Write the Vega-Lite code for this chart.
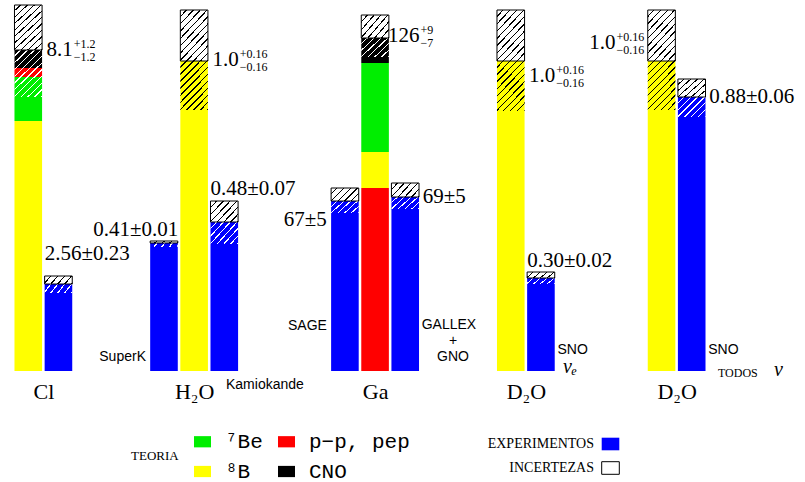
{
 "$schema": "https://vega.github.io/schema/vega-lite/v6.json",
 "width": 805, "height": 371, "padding": 0, "autosize": {"type": "pad"},
 "background": "white",
 "config": {"view": {"stroke": null}},
 "datasets": {
  "barras": [
   {"barra":"Cl-teoria","clase":"teoria","comp":"⁸B","lo":0,"hi":250},
   {"barra":"Cl-teoria","clase":"teoria","comp":"⁷Be","lo":250,"hi":294},
   {"barra":"Cl-teoria","clase":"teoria","comp":"p−p, pep","lo":294,"hi":303},
   {"barra":"Cl-teoria","clase":"teoria","comp":"CNO","lo":303,"hi":321},
   {"barra":"Cl-teoria","clase":"inc_sup","lo":321,"hi":366},
   {"barra":"Cl-teoria","clase":"inc_inf","comp":"⁷Be","lo":274,"hi":321},
   {"barra":"Homestake","clase":"experimento","comp":"EXPERIMENTOS","lo":0,"hi":87},
   {"barra":"Homestake","clase":"inc_sup","lo":87,"hi":95},
   {"barra":"Homestake","clase":"inc_inf","lo":78,"hi":87},
   {"barra":"SuperK","clase":"experimento","comp":"EXPERIMENTOS","lo":0,"hi":128},
   {"barra":"SuperK","clase":"inc_sup","lo":128,"hi":130},
   {"barra":"SuperK","clase":"inc_inf","lo":124,"hi":128},
   {"barra":"H2O-teoria","clase":"teoria","comp":"⁸B","lo":0,"hi":310},
   {"barra":"H2O-teoria","clase":"inc_sup","lo":310,"hi":361},
   {"barra":"H2O-teoria","clase":"inc_inf","comp":"⁸B","lo":261,"hi":310},
   {"barra":"Kamiokande","clase":"experimento","comp":"EXPERIMENTOS","lo":0,"hi":149},
   {"barra":"Kamiokande","clase":"inc_sup","lo":149,"hi":170},
   {"barra":"Kamiokande","clase":"inc_inf","lo":127,"hi":149},
   {"barra":"SAGE","clase":"experimento","comp":"EXPERIMENTOS","lo":0,"hi":170},
   {"barra":"SAGE","clase":"inc_sup","lo":170,"hi":183},
   {"barra":"SAGE","clase":"inc_inf","lo":158,"hi":170},
   {"barra":"Ga-teoria","clase":"teoria","comp":"p−p, pep","lo":0,"hi":183},
   {"barra":"Ga-teoria","clase":"teoria","comp":"⁸B","lo":183,"hi":219},
   {"barra":"Ga-teoria","clase":"teoria","comp":"⁷Be","lo":219,"hi":308},
   {"barra":"Ga-teoria","clase":"teoria","comp":"CNO","lo":308,"hi":333},
   {"barra":"Ga-teoria","clase":"inc_sup","lo":333,"hi":356},
   {"barra":"Ga-teoria","clase":"inc_inf","comp":"CNO","lo":314,"hi":333},
   {"barra":"GALLEX+GNO","clase":"experimento","comp":"EXPERIMENTOS","lo":0,"hi":174},
   {"barra":"GALLEX+GNO","clase":"inc_sup","lo":174,"hi":188},
   {"barra":"GALLEX+GNO","clase":"inc_inf","lo":162,"hi":174},
   {"barra":"D2O-teoria-e","clase":"teoria","comp":"⁸B","lo":0,"hi":310},
   {"barra":"D2O-teoria-e","clase":"inc_sup","lo":310,"hi":361},
   {"barra":"D2O-teoria-e","clase":"inc_inf","comp":"⁸B","lo":260,"hi":310},
   {"barra":"SNO-CC","clase":"experimento","comp":"EXPERIMENTOS","lo":0,"hi":93},
   {"barra":"SNO-CC","clase":"inc_sup","lo":93,"hi":99},
   {"barra":"SNO-CC","clase":"inc_inf","lo":87,"hi":93},
   {"barra":"D2O-teoria","clase":"teoria","comp":"⁸B","lo":0,"hi":310},
   {"barra":"D2O-teoria","clase":"inc_sup","lo":310,"hi":361},
   {"barra":"D2O-teoria","clase":"inc_inf","comp":"⁸B","lo":261,"hi":310},
   {"barra":"SNO-NC","clase":"experimento","comp":"EXPERIMENTOS","lo":0,"hi":274},
   {"barra":"SNO-NC","clase":"inc_sup","lo":274,"hi":292},
   {"barra":"SNO-NC","clase":"inc_inf","lo":254,"hi":274}
  ],
  "textos": [
   {"grupo":"teo","barra":"Cl-teoria","y":321,"texto":"8.1","sup":"+1.2","sub":"−1.2"},
   {"grupo":"teo","barra":"H2O-teoria","y":311,"texto":"1.0","sup":"+0.16","sub":"−0.16"},
   {"grupo":"teo","barra":"Ga-teoria","y":335,"texto":"126","sup":"+9","sub":"−7"},
   {"grupo":"teo","barra":"D2O-teoria-e","y":295,"texto":"1.0","sup":"+0.16","sub":"−0.16"},
   {"grupo":"teo","barra":"s36","y":328,"texto":"1.0","sup":"+0.16","sub":"−0.16"},
   {"grupo":"exp_arriba","barra":"Homestake","y":117,"texto":"2.56±0.23"},
   {"grupo":"exp_arriba","barra":"Kamiokande","y":181.7,"texto":"0.48±0.07"},
   {"grupo":"exp_arriba","barra":"SNO-CC","y":110,"texto":"0.30±0.02"},
   {"grupo":"exp_dcha","barra":"GALLEX+GNO","y":173.7,"texto":"69±5"},
   {"grupo":"exp_dcha","barra":"SNO-NC","y":273.7,"texto":"0.88±0.06"},
   {"grupo":"exp_sk","barra":"SuperK","y":141,"texto":"0.41±0.01"},
   {"grupo":"exp_sage","barra":"SAGE","y":151,"texto":"67±5"},
   {"grupo":"nom_izq","barra":"SuperK","y":14,"texto":"SuperK"},
   {"grupo":"nom_izq","barra":"SAGE","y":45,"texto":"SAGE"},
   {"grupo":"nom_dcha","barra":"GALLEX+GNO","y":46,"texto":"GALLEX"},
   {"grupo":"nom_dcha","barra":"SNO-CC","y":21,"texto":"SNO"},
   {"grupo":"nom_dcha","barra":"SNO-NC","y":21,"texto":"SNO"},
   {"grupo":"nom_centro","barra":"GALLEX+GNO","y":30,"texto":"+"},
   {"grupo":"nom_centro","barra":"GALLEX+GNO","y":14,"texto":"GNO"},
   {"grupo":"nom_kam","barra":"Kamiokande","y":-13.7,"texto":"Kamiokande"},
   {"grupo":"nu","barra":"SNO-CC","y":4,"texto":"νₑ"},
   {"grupo":"nu","barra":"s48","y":1,"texto":"ν"},
   {"grupo":"todos","barra":"SNO-NC","y":-2,"texto":"TODOS"}
  ]
 },
 "encoding": {
  "x": {"field": "barra", "type": "nominal",
   "scale": {"type": "point", "padding": 0, "range": [28.28, 752.02],
    "domain": ["Cl-teoria","s01","Homestake","s03","s04","s05","s06","s07","s08","SuperK","s10","H2O-teoria","s12","Kamiokande","s14","s15","s16","s17","s18","s19","s20","SAGE","s22","Ga-teoria","s24","GALLEX+GNO","s26","s27","s28","s29","s30","s31","D2O-teoria-e","s33","SNO-CC","s35","s36","s37","s38","s39","s40","s41","D2O-teoria","s43","SNO-NC","s45","s46","s47","s48"]},
   "axis": {"values": ["s01","H2O-teoria","Ga-teoria","s33","s43"],
    "labelExpr": "datum.value == 's01' ? 'Cl' : datum.value == 'H2O-teoria' ? 'H₂O' : datum.value == 'Ga-teoria' ? 'Ga' : 'D₂O'",
    "title": null, "domain": false, "ticks": false, "tickSize": 0, "grid": false,
    "labelPadding": 10, "labelFont": "Liberation Serif", "labelFontSize": 22, "labelColor": "#000000",
    "labelAngle": 0, "labelBaseline": "top", "labelOverlap": false}
  }
 },
 "layer": [
  {"data": {"name": "barras"}, "transform": [{"filter": "datum.clase == 'teoria'"}],
   "mark": {"type": "bar", "width": 27.6},
   "encoding": {
    "y": {"field": "lo", "type": "quantitative", "scale": {"domain": [0, 371]}, "axis": null},
    "y2": {"field": "hi"},
    "fill": {"field": "comp", "type": "nominal",
     "scale": {"domain": ["⁷Be","p−p, pep","⁸B","CNO"], "range": ["#00ee00","#ff0000","#ffff00","#000000"]},
     "legend": {"title": "TEORIA", "orient": "none", "legendX": 131, "legendY": 431, "columns": 2, "direction": "horizontal",
      "titleOrient": "left", "titleAnchor": "middle", "titleBaseline": "middle", "titleFont": "Liberation Serif",
      "titleFontSize": 13, "titleFontWeight": "normal", "titleColor": "#000000", "titlePadding": 13,
      "labelFont": "Liberation Mono", "labelFontSize": 21, "labelColor": "#000000", "labelOffset": 12, "labelLimit": 300,
      "symbolType": "M-1,-0.66H1V0.66H-1Z", "symbolSize": 289, "symbolStrokeWidth": 0,
      "rowPadding": 8, "columnPadding": 13, "padding": 0}}
   }},
  {"data": {"name": "barras"}, "transform": [{"filter": "datum.clase == 'experimento'"}],
   "mark": {"type": "bar", "width": 27.6},
   "encoding": {
    "y": {"field": "lo", "type": "quantitative", "scale": {"domain": [0, 371]}, "axis": null},
    "y2": {"field": "hi"},
    "fill": {"field": "comp", "type": "nominal",
     "scale": {"domain": ["EXPERIMENTOS","INCERTEZAS"], "range": ["#0000ff", "#ffffff"]},
     "legend": {"title": null, "orient": "none", "legendX": 601, "legendY": 434.5, "direction": "vertical",
      "labelFont": "Liberation Serif", "labelFontSize": 14, "labelColor": "#000000", "labelLimit": 300,
      "symbolType": "M-1,-0.716H1V0.716H-1Z", "symbolSize": 310, "rowPadding": 6, "padding": 0,
      "encode": {
       "labels": {"update": {"align": {"value": "right"}, "x": {"value": -7}}},
       "symbols": {"update": {
        "stroke": [{"test": "datum.value === 'INCERTEZAS'", "value": "#000000"}, {"value": "transparent"}],
        "strokeWidth": {"value": 1}}}
      }}}
   }},
  {"data": {"name": "barras"}, "transform": [{"filter": "datum.clase == 'inc_inf' && datum.hi - datum.lo >= 35 && datum.comp == '⁸B'"}],
   "mark": {"type": "bar", "width": 27.6, "fill": {"gradient": "linear", "x1": 0, "y1": 0, "x2": 0.6806, "y2": 1.1836, "stops": [
    {"offset":0,"color":"rgba(0,0,0,0)"},{"offset":0.0727,"color":"rgba(0,0,0,0)"},{"offset":0.0727,"color":"#000000"},{"offset":0.0909,"color":"#000000"},
    {"offset":0.0909,"color":"rgba(0,0,0,0)"},{"offset":0.1636,"color":"rgba(0,0,0,0)"},{"offset":0.1636,"color":"#000000"},{"offset":0.1818,"color":"#000000"},
    {"offset":0.1818,"color":"rgba(0,0,0,0)"},{"offset":0.2545,"color":"rgba(0,0,0,0)"},{"offset":0.2545,"color":"#000000"},{"offset":0.2727,"color":"#000000"},
    {"offset":0.2727,"color":"rgba(0,0,0,0)"},{"offset":0.3455,"color":"rgba(0,0,0,0)"},{"offset":0.3455,"color":"#000000"},{"offset":0.3636,"color":"#000000"},
    {"offset":0.3636,"color":"rgba(0,0,0,0)"},{"offset":0.4364,"color":"rgba(0,0,0,0)"},{"offset":0.4364,"color":"#000000"},{"offset":0.4545,"color":"#000000"},
    {"offset":0.4545,"color":"rgba(0,0,0,0)"},{"offset":0.5273,"color":"rgba(0,0,0,0)"},{"offset":0.5273,"color":"#000000"},{"offset":0.5455,"color":"#000000"},
    {"offset":0.5455,"color":"rgba(0,0,0,0)"},{"offset":0.6182,"color":"rgba(0,0,0,0)"},{"offset":0.6182,"color":"#000000"},{"offset":0.6364,"color":"#000000"},
    {"offset":0.6364,"color":"rgba(0,0,0,0)"},{"offset":0.7091,"color":"rgba(0,0,0,0)"},{"offset":0.7091,"color":"#000000"},{"offset":0.7273,"color":"#000000"},
    {"offset":0.7273,"color":"rgba(0,0,0,0)"},{"offset":0.8,"color":"rgba(0,0,0,0)"},{"offset":0.8,"color":"#000000"},{"offset":0.8182,"color":"#000000"},
    {"offset":0.8182,"color":"rgba(0,0,0,0)"},{"offset":0.8909,"color":"rgba(0,0,0,0)"},{"offset":0.8909,"color":"#000000"},{"offset":0.9091,"color":"#000000"},
    {"offset":0.9091,"color":"rgba(0,0,0,0)"},{"offset":0.9818,"color":"rgba(0,0,0,0)"},{"offset":0.9818,"color":"#000000"},{"offset":1,"color":"#000000"}]}},
   "encoding": {"y": {"field": "lo", "type": "quantitative", "scale": {"domain": [0, 371]}, "axis": null}, "y2": {"field": "hi"}}},
  {"data": {"name": "barras"}, "transform": [{"filter": "datum.clase == 'inc_inf' && datum.hi - datum.lo >= 35 && datum.comp != '⁸B'"}],
   "mark": {"type": "bar", "width": 27.6, "fill": {"gradient": "linear", "x1": 0, "y1": 0, "x2": 0.6806, "y2": 1.1836, "stops": [
    {"offset":0,"color":"rgba(255,255,255,0)"},{"offset":0.0727,"color":"rgba(255,255,255,0)"},{"offset":0.0727,"color":"#ffffff"},{"offset":0.0909,"color":"#ffffff"},
    {"offset":0.0909,"color":"rgba(255,255,255,0)"},{"offset":0.1636,"color":"rgba(255,255,255,0)"},{"offset":0.1636,"color":"#ffffff"},{"offset":0.1818,"color":"#ffffff"},
    {"offset":0.1818,"color":"rgba(255,255,255,0)"},{"offset":0.2545,"color":"rgba(255,255,255,0)"},{"offset":0.2545,"color":"#ffffff"},{"offset":0.2727,"color":"#ffffff"},
    {"offset":0.2727,"color":"rgba(255,255,255,0)"},{"offset":0.3455,"color":"rgba(255,255,255,0)"},{"offset":0.3455,"color":"#ffffff"},{"offset":0.3636,"color":"#ffffff"},
    {"offset":0.3636,"color":"rgba(255,255,255,0)"},{"offset":0.4364,"color":"rgba(255,255,255,0)"},{"offset":0.4364,"color":"#ffffff"},{"offset":0.4545,"color":"#ffffff"},
    {"offset":0.4545,"color":"rgba(255,255,255,0)"},{"offset":0.5273,"color":"rgba(255,255,255,0)"},{"offset":0.5273,"color":"#ffffff"},{"offset":0.5455,"color":"#ffffff"},
    {"offset":0.5455,"color":"rgba(255,255,255,0)"},{"offset":0.6182,"color":"rgba(255,255,255,0)"},{"offset":0.6182,"color":"#ffffff"},{"offset":0.6364,"color":"#ffffff"},
    {"offset":0.6364,"color":"rgba(255,255,255,0)"},{"offset":0.7091,"color":"rgba(255,255,255,0)"},{"offset":0.7091,"color":"#ffffff"},{"offset":0.7273,"color":"#ffffff"},
    {"offset":0.7273,"color":"rgba(255,255,255,0)"},{"offset":0.8,"color":"rgba(255,255,255,0)"},{"offset":0.8,"color":"#ffffff"},{"offset":0.8182,"color":"#ffffff"},
    {"offset":0.8182,"color":"rgba(255,255,255,0)"},{"offset":0.8909,"color":"rgba(255,255,255,0)"},{"offset":0.8909,"color":"#ffffff"},{"offset":0.9091,"color":"#ffffff"},
    {"offset":0.9091,"color":"rgba(255,255,255,0)"},{"offset":0.9818,"color":"rgba(255,255,255,0)"},{"offset":0.9818,"color":"#ffffff"},{"offset":1,"color":"#ffffff"}]}},
   "encoding": {"y": {"field": "lo", "type": "quantitative", "scale": {"domain": [0, 371]}, "axis": null}, "y2": {"field": "hi"}}},
  {"data": {"name": "barras"}, "transform": [{"filter": "datum.clase == 'inc_inf' && datum.hi - datum.lo >= 16 && datum.hi - datum.lo < 35"}],
   "mark": {"type": "bar", "width": 27.6, "fill": {"gradient": "linear", "x1": 0, "y1": 0, "x2": 1.1308, "y2": 0.8194, "stops": [
    {"offset":0,"color":"rgba(255,255,255,0)"},{"offset":0.1143,"color":"rgba(255,255,255,0)"},{"offset":0.1143,"color":"#ffffff"},{"offset":0.1429,"color":"#ffffff"},
    {"offset":0.1429,"color":"rgba(255,255,255,0)"},{"offset":0.2571,"color":"rgba(255,255,255,0)"},{"offset":0.2571,"color":"#ffffff"},{"offset":0.2857,"color":"#ffffff"},
    {"offset":0.2857,"color":"rgba(255,255,255,0)"},{"offset":0.4,"color":"rgba(255,255,255,0)"},{"offset":0.4,"color":"#ffffff"},{"offset":0.4286,"color":"#ffffff"},
    {"offset":0.4286,"color":"rgba(255,255,255,0)"},{"offset":0.5429,"color":"rgba(255,255,255,0)"},{"offset":0.5429,"color":"#ffffff"},{"offset":0.5714,"color":"#ffffff"},
    {"offset":0.5714,"color":"rgba(255,255,255,0)"},{"offset":0.6857,"color":"rgba(255,255,255,0)"},{"offset":0.6857,"color":"#ffffff"},{"offset":0.7143,"color":"#ffffff"},
    {"offset":0.7143,"color":"rgba(255,255,255,0)"},{"offset":0.8286,"color":"rgba(255,255,255,0)"},{"offset":0.8286,"color":"#ffffff"},{"offset":0.8571,"color":"#ffffff"},
    {"offset":0.8571,"color":"rgba(255,255,255,0)"},{"offset":0.9714,"color":"rgba(255,255,255,0)"},{"offset":0.9714,"color":"#ffffff"},{"offset":1,"color":"#ffffff"}]}},
   "encoding": {"y": {"field": "lo", "type": "quantitative", "scale": {"domain": [0, 371]}, "axis": null}, "y2": {"field": "hi"}}},
  {"data": {"name": "barras"}, "transform": [{"filter": "datum.clase == 'inc_inf' && datum.hi - datum.lo >= 10 && datum.hi - datum.lo < 16"}],
   "mark": {"type": "bar", "width": 27.6, "fill": {"gradient": "linear", "x1": 0, "y1": 0, "x2": 1.2039, "y2": 0.567, "stops": [
    {"offset":0,"color":"rgba(255,255,255,0)"},{"offset":0.1333,"color":"rgba(255,255,255,0)"},{"offset":0.1333,"color":"#ffffff"},{"offset":0.1667,"color":"#ffffff"},
    {"offset":0.1667,"color":"rgba(255,255,255,0)"},{"offset":0.3,"color":"rgba(255,255,255,0)"},{"offset":0.3,"color":"#ffffff"},{"offset":0.3333,"color":"#ffffff"},
    {"offset":0.3333,"color":"rgba(255,255,255,0)"},{"offset":0.4667,"color":"rgba(255,255,255,0)"},{"offset":0.4667,"color":"#ffffff"},{"offset":0.5,"color":"#ffffff"},
    {"offset":0.5,"color":"rgba(255,255,255,0)"},{"offset":0.6333,"color":"rgba(255,255,255,0)"},{"offset":0.6333,"color":"#ffffff"},{"offset":0.6667,"color":"#ffffff"},
    {"offset":0.6667,"color":"rgba(255,255,255,0)"},{"offset":0.8,"color":"rgba(255,255,255,0)"},{"offset":0.8,"color":"#ffffff"},{"offset":0.8333,"color":"#ffffff"},
    {"offset":0.8333,"color":"rgba(255,255,255,0)"},{"offset":0.9667,"color":"rgba(255,255,255,0)"},{"offset":0.9667,"color":"#ffffff"},{"offset":1,"color":"#ffffff"}]}},
   "encoding": {"y": {"field": "lo", "type": "quantitative", "scale": {"domain": [0, 371]}, "axis": null}, "y2": {"field": "hi"}}},
  {"data": {"name": "barras"}, "transform": [{"filter": "datum.clase == 'inc_inf' && datum.hi - datum.lo >= 5 && datum.hi - datum.lo < 10"}],
   "mark": {"type": "bar", "width": 27.6, "fill": {"gradient": "linear", "x1": 0, "y1": 0, "x2": 1.1778, "y2": 0.2987, "stops": [
    {"offset":0,"color":"rgba(255,255,255,0)"},{"offset":0.16,"color":"rgba(255,255,255,0)"},{"offset":0.16,"color":"#ffffff"},{"offset":0.2,"color":"#ffffff"},
    {"offset":0.2,"color":"rgba(255,255,255,0)"},{"offset":0.36,"color":"rgba(255,255,255,0)"},{"offset":0.36,"color":"#ffffff"},{"offset":0.4,"color":"#ffffff"},
    {"offset":0.4,"color":"rgba(255,255,255,0)"},{"offset":0.56,"color":"rgba(255,255,255,0)"},{"offset":0.56,"color":"#ffffff"},{"offset":0.6,"color":"#ffffff"},
    {"offset":0.6,"color":"rgba(255,255,255,0)"},{"offset":0.76,"color":"rgba(255,255,255,0)"},{"offset":0.76,"color":"#ffffff"},{"offset":0.8,"color":"#ffffff"},
    {"offset":0.8,"color":"rgba(255,255,255,0)"},{"offset":0.96,"color":"rgba(255,255,255,0)"},{"offset":0.96,"color":"#ffffff"},{"offset":1,"color":"#ffffff"}]}},
   "encoding": {"y": {"field": "lo", "type": "quantitative", "scale": {"domain": [0, 371]}, "axis": null}, "y2": {"field": "hi"}}},
  {"data": {"name": "barras"}, "transform": [{"filter": "datum.clase == 'inc_inf' && datum.hi - datum.lo < 5"}],
   "mark": {"type": "bar", "width": 27.6, "fill": {"gradient": "linear", "x1": 0, "y1": 0, "x2": 1.0957, "y2": 0.119, "stops": [
    {"offset":0,"color":"rgba(255,255,255,0)"},{"offset":0.2,"color":"rgba(255,255,255,0)"},{"offset":0.2,"color":"#ffffff"},{"offset":0.25,"color":"#ffffff"},
    {"offset":0.25,"color":"rgba(255,255,255,0)"},{"offset":0.45,"color":"rgba(255,255,255,0)"},{"offset":0.45,"color":"#ffffff"},{"offset":0.5,"color":"#ffffff"},
    {"offset":0.5,"color":"rgba(255,255,255,0)"},{"offset":0.7,"color":"rgba(255,255,255,0)"},{"offset":0.7,"color":"#ffffff"},{"offset":0.75,"color":"#ffffff"},
    {"offset":0.75,"color":"rgba(255,255,255,0)"},{"offset":0.95,"color":"rgba(255,255,255,0)"},{"offset":0.95,"color":"#ffffff"},{"offset":1,"color":"#ffffff"}]}},
   "encoding": {"y": {"field": "lo", "type": "quantitative", "scale": {"domain": [0, 371]}, "axis": null}, "y2": {"field": "hi"}}},
  {"data": {"name": "barras"}, "transform": [{"filter": "datum.clase == 'inc_sup' && datum.hi - datum.lo >= 35"}],
   "mark": {"type": "bar", "width": 27.6, "stroke": "#000000", "strokeWidth": 1, "fill": {"gradient": "linear", "x1": 0, "y1": 0, "x2": 0.6806, "y2": 1.1836, "stops": [
    {"offset":0,"color":"#ffffff"},{"offset":0.0727,"color":"#ffffff"},{"offset":0.0727,"color":"#000000"},{"offset":0.0909,"color":"#000000"},
    {"offset":0.0909,"color":"#ffffff"},{"offset":0.1636,"color":"#ffffff"},{"offset":0.1636,"color":"#000000"},{"offset":0.1818,"color":"#000000"},
    {"offset":0.1818,"color":"#ffffff"},{"offset":0.2545,"color":"#ffffff"},{"offset":0.2545,"color":"#000000"},{"offset":0.2727,"color":"#000000"},
    {"offset":0.2727,"color":"#ffffff"},{"offset":0.3455,"color":"#ffffff"},{"offset":0.3455,"color":"#000000"},{"offset":0.3636,"color":"#000000"},
    {"offset":0.3636,"color":"#ffffff"},{"offset":0.4364,"color":"#ffffff"},{"offset":0.4364,"color":"#000000"},{"offset":0.4545,"color":"#000000"},
    {"offset":0.4545,"color":"#ffffff"},{"offset":0.5273,"color":"#ffffff"},{"offset":0.5273,"color":"#000000"},{"offset":0.5455,"color":"#000000"},
    {"offset":0.5455,"color":"#ffffff"},{"offset":0.6182,"color":"#ffffff"},{"offset":0.6182,"color":"#000000"},{"offset":0.6364,"color":"#000000"},
    {"offset":0.6364,"color":"#ffffff"},{"offset":0.7091,"color":"#ffffff"},{"offset":0.7091,"color":"#000000"},{"offset":0.7273,"color":"#000000"},
    {"offset":0.7273,"color":"#ffffff"},{"offset":0.8,"color":"#ffffff"},{"offset":0.8,"color":"#000000"},{"offset":0.8182,"color":"#000000"},
    {"offset":0.8182,"color":"#ffffff"},{"offset":0.8909,"color":"#ffffff"},{"offset":0.8909,"color":"#000000"},{"offset":0.9091,"color":"#000000"},
    {"offset":0.9091,"color":"#ffffff"},{"offset":0.9818,"color":"#ffffff"},{"offset":0.9818,"color":"#000000"},{"offset":1,"color":"#000000"}]}},
   "encoding": {"y": {"field": "lo", "type": "quantitative", "scale": {"domain": [0, 371]}, "axis": null}, "y2": {"field": "hi"}}},
  {"data": {"name": "barras"}, "transform": [{"filter": "datum.clase == 'inc_sup' && datum.hi - datum.lo >= 16 && datum.hi - datum.lo < 35"}],
   "mark": {"type": "bar", "width": 27.6, "stroke": "#000000", "strokeWidth": 1, "fill": {"gradient": "linear", "x1": 0, "y1": 0, "x2": 1.1308, "y2": 0.8194, "stops": [
    {"offset":0,"color":"#ffffff"},{"offset":0.1143,"color":"#ffffff"},{"offset":0.1143,"color":"#000000"},{"offset":0.1429,"color":"#000000"},
    {"offset":0.1429,"color":"#ffffff"},{"offset":0.2571,"color":"#ffffff"},{"offset":0.2571,"color":"#000000"},{"offset":0.2857,"color":"#000000"},
    {"offset":0.2857,"color":"#ffffff"},{"offset":0.4,"color":"#ffffff"},{"offset":0.4,"color":"#000000"},{"offset":0.4286,"color":"#000000"},
    {"offset":0.4286,"color":"#ffffff"},{"offset":0.5429,"color":"#ffffff"},{"offset":0.5429,"color":"#000000"},{"offset":0.5714,"color":"#000000"},
    {"offset":0.5714,"color":"#ffffff"},{"offset":0.6857,"color":"#ffffff"},{"offset":0.6857,"color":"#000000"},{"offset":0.7143,"color":"#000000"},
    {"offset":0.7143,"color":"#ffffff"},{"offset":0.8286,"color":"#ffffff"},{"offset":0.8286,"color":"#000000"},{"offset":0.8571,"color":"#000000"},
    {"offset":0.8571,"color":"#ffffff"},{"offset":0.9714,"color":"#ffffff"},{"offset":0.9714,"color":"#000000"},{"offset":1,"color":"#000000"}]}},
   "encoding": {"y": {"field": "lo", "type": "quantitative", "scale": {"domain": [0, 371]}, "axis": null}, "y2": {"field": "hi"}}},
  {"data": {"name": "barras"}, "transform": [{"filter": "datum.clase == 'inc_sup' && datum.hi - datum.lo >= 10 && datum.hi - datum.lo < 16"}],
   "mark": {"type": "bar", "width": 27.6, "stroke": "#000000", "strokeWidth": 1, "fill": {"gradient": "linear", "x1": 0, "y1": 0, "x2": 1.2039, "y2": 0.567, "stops": [
    {"offset":0,"color":"#ffffff"},{"offset":0.1333,"color":"#ffffff"},{"offset":0.1333,"color":"#000000"},{"offset":0.1667,"color":"#000000"},
    {"offset":0.1667,"color":"#ffffff"},{"offset":0.3,"color":"#ffffff"},{"offset":0.3,"color":"#000000"},{"offset":0.3333,"color":"#000000"},
    {"offset":0.3333,"color":"#ffffff"},{"offset":0.4667,"color":"#ffffff"},{"offset":0.4667,"color":"#000000"},{"offset":0.5,"color":"#000000"},
    {"offset":0.5,"color":"#ffffff"},{"offset":0.6333,"color":"#ffffff"},{"offset":0.6333,"color":"#000000"},{"offset":0.6667,"color":"#000000"},
    {"offset":0.6667,"color":"#ffffff"},{"offset":0.8,"color":"#ffffff"},{"offset":0.8,"color":"#000000"},{"offset":0.8333,"color":"#000000"},
    {"offset":0.8333,"color":"#ffffff"},{"offset":0.9667,"color":"#ffffff"},{"offset":0.9667,"color":"#000000"},{"offset":1,"color":"#000000"}]}},
   "encoding": {"y": {"field": "lo", "type": "quantitative", "scale": {"domain": [0, 371]}, "axis": null}, "y2": {"field": "hi"}}},
  {"data": {"name": "barras"}, "transform": [{"filter": "datum.clase == 'inc_sup' && datum.hi - datum.lo >= 5 && datum.hi - datum.lo < 10"}],
   "mark": {"type": "bar", "width": 27.6, "stroke": "#000000", "strokeWidth": 1, "fill": {"gradient": "linear", "x1": 0, "y1": 0, "x2": 1.1778, "y2": 0.2987, "stops": [
    {"offset":0,"color":"#ffffff"},{"offset":0.16,"color":"#ffffff"},{"offset":0.16,"color":"#000000"},{"offset":0.2,"color":"#000000"},
    {"offset":0.2,"color":"#ffffff"},{"offset":0.36,"color":"#ffffff"},{"offset":0.36,"color":"#000000"},{"offset":0.4,"color":"#000000"},
    {"offset":0.4,"color":"#ffffff"},{"offset":0.56,"color":"#ffffff"},{"offset":0.56,"color":"#000000"},{"offset":0.6,"color":"#000000"},
    {"offset":0.6,"color":"#ffffff"},{"offset":0.76,"color":"#ffffff"},{"offset":0.76,"color":"#000000"},{"offset":0.8,"color":"#000000"},
    {"offset":0.8,"color":"#ffffff"},{"offset":0.96,"color":"#ffffff"},{"offset":0.96,"color":"#000000"},{"offset":1,"color":"#000000"}]}},
   "encoding": {"y": {"field": "lo", "type": "quantitative", "scale": {"domain": [0, 371]}, "axis": null}, "y2": {"field": "hi"}}},
  {"data": {"name": "barras"}, "transform": [{"filter": "datum.clase == 'inc_sup' && datum.hi - datum.lo < 5"}],
   "mark": {"type": "bar", "width": 27.6, "stroke": "#000000", "strokeWidth": 1, "fill": {"gradient": "linear", "x1": 0, "y1": 0, "x2": 1.0957, "y2": 0.119, "stops": [
    {"offset":0,"color":"#ffffff"},{"offset":0.2,"color":"#ffffff"},{"offset":0.2,"color":"#000000"},{"offset":0.25,"color":"#000000"},
    {"offset":0.25,"color":"#ffffff"},{"offset":0.45,"color":"#ffffff"},{"offset":0.45,"color":"#000000"},{"offset":0.5,"color":"#000000"},
    {"offset":0.5,"color":"#ffffff"},{"offset":0.7,"color":"#ffffff"},{"offset":0.7,"color":"#000000"},{"offset":0.75,"color":"#000000"},
    {"offset":0.75,"color":"#ffffff"},{"offset":0.95,"color":"#ffffff"},{"offset":0.95,"color":"#000000"},{"offset":1,"color":"#000000"}]}},
   "encoding": {"y": {"field": "lo", "type": "quantitative", "scale": {"domain": [0, 371]}, "axis": null}, "y2": {"field": "hi"}}},
  {"data": {"name": "textos"}, "transform": [{"filter": "datum.grupo == 'teo'"}],
   "mark": {"type": "text", "font": "Liberation Serif", "fontSize": 21, "align": "right", "baseline": "middle", "dx": 44.5, "color": "#000000"},
   "encoding": {"y": {"field": "y", "type": "quantitative", "scale": {"domain": [0, 371]}, "axis": null}, "text": {"field": "texto"}}},
  {"data": {"name": "textos"}, "transform": [{"filter": "datum.grupo == 'teo'"}],
   "mark": {"type": "text", "font": "Liberation Serif", "fontSize": 12, "align": "left", "baseline": "middle", "dx": 45.5, "dy": -6.5, "color": "#000000"},
   "encoding": {"y": {"field": "y", "type": "quantitative", "scale": {"domain": [0, 371]}, "axis": null}, "text": {"field": "sup"}}},
  {"data": {"name": "textos"}, "transform": [{"filter": "datum.grupo == 'teo'"}],
   "mark": {"type": "text", "font": "Liberation Serif", "fontSize": 12, "align": "left", "baseline": "middle", "dx": 45.5, "dy": 6.5, "color": "#000000"},
   "encoding": {"y": {"field": "y", "type": "quantitative", "scale": {"domain": [0, 371]}, "axis": null}, "text": {"field": "sub"}}},
  {"data": {"name": "textos"}, "transform": [{"filter": "datum.grupo == 'exp_arriba'"}],
   "mark": {"type": "text", "font": "Liberation Serif", "fontSize": 21, "align": "left", "baseline": "middle", "dx": -13.8, "color": "#000000"},
   "encoding": {"y": {"field": "y", "type": "quantitative", "scale": {"domain": [0, 371]}, "axis": null}, "text": {"field": "texto"}}},
  {"data": {"name": "textos"}, "transform": [{"filter": "datum.grupo == 'exp_dcha'"}],
   "mark": {"type": "text", "font": "Liberation Serif", "fontSize": 21, "align": "left", "baseline": "middle", "dx": 17.5, "color": "#000000"},
   "encoding": {"y": {"field": "y", "type": "quantitative", "scale": {"domain": [0, 371]}, "axis": null}, "text": {"field": "texto"}}},
  {"data": {"name": "textos"}, "transform": [{"filter": "datum.grupo == 'exp_sk'"}],
   "mark": {"type": "text", "font": "Liberation Serif", "fontSize": 21, "align": "right", "baseline": "middle", "dx": 14.3, "color": "#000000"},
   "encoding": {"y": {"field": "y", "type": "quantitative", "scale": {"domain": [0, 371]}, "axis": null}, "text": {"field": "texto"}}},
  {"data": {"name": "textos"}, "transform": [{"filter": "datum.grupo == 'exp_sage'"}],
   "mark": {"type": "text", "font": "Liberation Serif", "fontSize": 21, "align": "right", "baseline": "middle", "dx": -18.2, "color": "#000000"},
   "encoding": {"y": {"field": "y", "type": "quantitative", "scale": {"domain": [0, 371]}, "axis": null}, "text": {"field": "texto"}}},
  {"data": {"name": "textos"}, "transform": [{"filter": "datum.grupo == 'nom_izq'"}],
   "mark": {"type": "text", "font": "Liberation Sans", "fontSize": 14, "align": "right", "baseline": "middle", "dx": -18, "color": "#000000"},
   "encoding": {"y": {"field": "y", "type": "quantitative", "scale": {"domain": [0, 371]}, "axis": null}, "text": {"field": "texto"}}},
  {"data": {"name": "textos"}, "transform": [{"filter": "datum.grupo == 'nom_dcha'"}],
   "mark": {"type": "text", "font": "Liberation Sans", "fontSize": 14, "align": "left", "baseline": "middle", "dx": 16.5, "color": "#000000"},
   "encoding": {"y": {"field": "y", "type": "quantitative", "scale": {"domain": [0, 371]}, "axis": null}, "text": {"field": "texto"}}},
  {"data": {"name": "textos"}, "transform": [{"filter": "datum.grupo == 'nom_centro'"}],
   "mark": {"type": "text", "font": "Liberation Sans", "fontSize": 14, "align": "center", "baseline": "middle", "dx": 47.8, "color": "#000000"},
   "encoding": {"y": {"field": "y", "type": "quantitative", "scale": {"domain": [0, 371]}, "axis": null}, "text": {"field": "texto"}}},
  {"data": {"name": "textos"}, "transform": [{"filter": "datum.grupo == 'nom_kam'"}],
   "mark": {"type": "text", "font": "Liberation Sans", "fontSize": 14, "align": "left", "baseline": "middle", "dx": 1.7, "color": "#000000"},
   "encoding": {"y": {"field": "y", "type": "quantitative", "scale": {"domain": [0, 371]}, "axis": null}, "text": {"field": "texto"}}},
  {"data": {"name": "textos"}, "transform": [{"filter": "datum.grupo == 'nu'"}],
   "mark": {"type": "text", "font": "Liberation Serif", "fontStyle": "italic", "fontSize": 20, "align": "left", "baseline": "middle", "dx": 22, "color": "#000000"},
   "encoding": {"y": {"field": "y", "type": "quantitative", "scale": {"domain": [0, 371]}, "axis": null}, "text": {"field": "texto"}}},
  {"data": {"name": "textos"}, "transform": [{"filter": "datum.grupo == 'todos'"}],
   "mark": {"type": "text", "font": "Liberation Serif", "fontSize": 12, "align": "left", "baseline": "middle", "dx": 26.3, "color": "#000000"},
   "encoding": {"y": {"field": "y", "type": "quantitative", "scale": {"domain": [0, 371]}, "axis": null}, "text": {"field": "texto"}}}
 ],
 "resolve": {"scale": {"fill": "independent"}}
}
